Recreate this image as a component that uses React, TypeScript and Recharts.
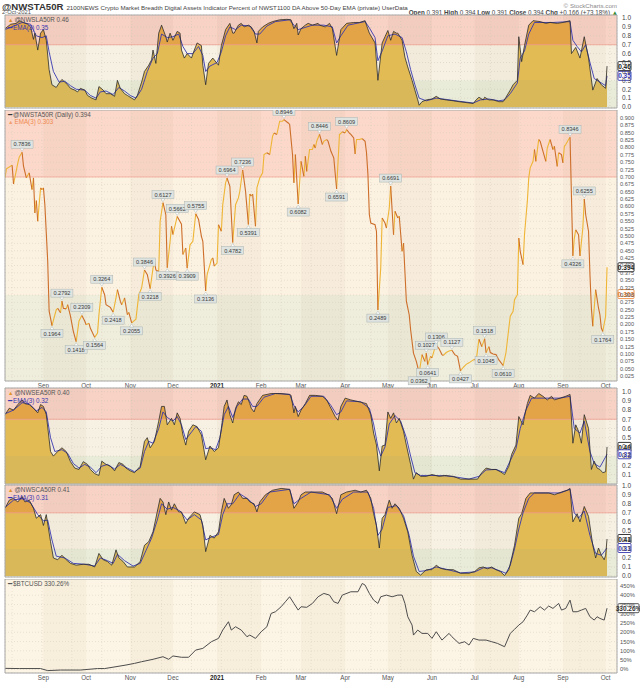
import React from 'react';
import {
  ComposedChart, Area, Line, XAxis, YAxis, CartesianGrid,
  ReferenceArea, ReferenceLine, ReferenceDot,
} from 'recharts';

const FONT = '"Liberation Sans", Arial, Helvetica, sans-serif';

// ---------- time axis (day 0 = 2020-08-05, last bar day 423 = 2021-10-02) ----------
const X_DOMAIN: [number, number] = [0, 430];
const monthStarts = [27, 57, 88, 118, 149, 180, 208, 239, 269, 300, 330, 361, 392, 422];
const monthNames = ['Sep', 'Oct', 'Nov', 'Dec', '2021', 'Feb', 'Mar', 'Apr', 'May', 'Jun', 'Jul', 'Aug', 'Sep', 'Oct'];
const shadedMonths: [number, number][] = [[27, 57], [88, 118], [149, 180], [208, 239], [269, 300], [330, 361], [392, 422]];
const weekLines = Array.from({ length: 61 }, (_, i) => 5 + i * 7);

// ---------- tick labels ----------
const oscTicks = [0, 0.1, 0.2, 0.3, 0.4, 0.5, 0.6, 0.7, 0.8, 0.9, 1.0];
const oscTicksNoZero = [0.1, 0.2, 0.3, 0.4, 0.5, 0.6, 0.7, 0.8, 0.9, 1.0];
const mainTicks = [0.025, 0.05, 0.075, 0.1, 0.125, 0.15, 0.175, 0.2, 0.225, 0.25, 0.275, 0.3, 0.325, 0.35, 0.375, 0.4, 0.425, 0.45, 0.475, 0.5, 0.525, 0.55, 0.575, 0.6, 0.625, 0.65, 0.675, 0.7, 0.725, 0.75, 0.775, 0.8, 0.825, 0.85, 0.875, 0.9];
const btcTicks = [0, 50, 100, 150, 200, 250, 300, 350, 400, 450];

// ---------- @NWSLA50R (top panel) ----------
const nwslaSeries = [[0,0.88],[4,0.93],[8,0.94],[10,0.97],[13,0.95],[16,0.93],[18,0.90],[20,0.76],[21,0.83],[23,0.64],[25,0.83],[27,0.87],[29,0.75],[31,0.42],[33,0.25],[36,0.22],[38,0.27],[40,0.31],[42,0.28],[44,0.25],[46,0.21],[49,0.19],[51,0.17],[53,0.21],[56,0.19],[58,0.13],[61,0.10],[64,0.08],[66,0.23],[69,0.19],[71,0.15],[74,0.15],[77,0.12],[79,0.30],[81,0.21],[84,0.15],[86,0.13],[89,0.10],[91,0.08],[93,0.13],[96,0.28],[98,0.40],[101,0.47],[103,0.53],[104,0.64],[106,0.49],[108,0.83],[110,0.92],[113,0.79],[114,0.73],[116,0.83],[118,0.75],[121,0.85],[123,0.83],[124,0.64],[126,0.55],[128,0.60],[131,0.55],[133,0.64],[135,0.72],[138,0.69],[139,0.47],[141,0.25],[143,0.49],[146,0.55],[150,0.47],[152,0.69],[155,0.87],[158,0.94],[160,0.83],[161,0.83],[164,0.92],[166,0.94],[168,0.90],[171,0.92],[173,0.90],[175,0.85],[177,0.72],[178,0.85],[181,0.90],[185,0.94],[188,0.96],[193,0.98],[198,0.985],[201,0.98],[203,0.88],[205,0.94],[206,0.81],[208,0.88],[211,0.92],[213,0.94],[216,0.92],[220,0.94],[221,0.92],[225,0.90],[228,0.94],[230,0.88],[233,0.58],[236,0.87],[240,0.94],[245,0.95],[249,0.95],[253,0.97],[254,0.92],[256,0.83],[260,0.72],[262,0.30],[265,0.72],[267,0.79],[269,0.86],[271,0.75],[273,0.85],[275,0.83],[276,0.83],[279,0.75],[281,0.56],[283,0.45],[286,0.30],[288,0.19],[290,0.08],[291,0.02],[293,0.06],[296,0.08],[300,0.09],[303,0.12],[306,0.09],[310,0.08],[315,0.07],[319,0.06],[324,0.05],[329,0.04],[331,0.08],[333,0.11],[336,0.08],[337,0.11],[340,0.08],[343,0.08],[347,0.06],[350,0.06],[352,0.11],[355,0.19],[357,0.25],[360,0.30],[361,0.79],[363,0.51],[365,0.69],[368,0.92],[371,0.97],[376,0.96],[380,0.94],[383,0.95],[388,0.94],[392,0.95],[397,0.97],[398,0.60],[401,0.67],[404,0.55],[407,0.79],[410,0.55],[413,0.19],[416,0.32],[419,0.25],[422,0.21],[423,0.46]];
const nwslaEma = [[0,0.87],[6,0.91],[12,0.95],[18,0.93],[22,0.80],[26,0.78],[29,0.80],[31,0.62],[34,0.40],[38,0.28],[42,0.29],[46,0.24],[50,0.20],[56,0.19],[60,0.13],[64,0.10],[67,0.17],[71,0.18],[76,0.14],[80,0.22],[84,0.18],[88,0.13],[92,0.10],[96,0.20],[100,0.40],[104,0.55],[107,0.60],[110,0.82],[114,0.78],[118,0.79],[122,0.82],[125,0.68],[128,0.60],[132,0.60],[136,0.68],[139,0.58],[141,0.40],[144,0.46],[149,0.50],[152,0.62],[155,0.80],[158,0.90],[162,0.87],[166,0.92],[172,0.91],[176,0.82],[179,0.82],[184,0.91],[190,0.96],[200,0.98],[203,0.92],[206,0.87],[210,0.89],[216,0.92],[224,0.92],[230,0.90],[233,0.72],[236,0.80],[241,0.92],[253,0.96],[256,0.89],[260,0.78],[262,0.52],[265,0.63],[269,0.80],[274,0.82],[279,0.78],[282,0.62],[285,0.42],[288,0.25],[291,0.10],[296,0.07],[303,0.10],[310,0.085],[319,0.065],[329,0.045],[334,0.08],[340,0.09],[347,0.07],[351,0.08],[355,0.15],[360,0.27],[362,0.55],[365,0.63],[368,0.82],[372,0.95],[385,0.95],[397,0.96],[399,0.75],[402,0.68],[405,0.62],[408,0.70],[411,0.50],[414,0.32],[418,0.28],[422,0.24],[423,0.35]];

// ---------- @NWSTA50R (main panel) ----------
const nwstaSeries = [[0,0.697],[1,0.728],[5,0.740],[6,0.676],[9,0.747],[10,0.767],[12,0.7836],[13,0.737],[15,0.697],[17,0.714],[19,0.657],[20,0.697],[21,0.578],[22,0.620],[23,0.550],[25,0.663],[26,0.657],[27,0.663],[28,0.606],[30,0.415],[31,0.246],[33,0.1964],[36,0.250],[37,0.255],[39,0.240],[40,0.2792],[41,0.255],[43,0.253],[44,0.267],[46,0.228],[48,0.177],[50,0.1418],[52,0.212],[54,0.2309],[56,0.212],[57,0.199],[59,0.204],[60,0.187],[63,0.1564],[65,0.171],[66,0.233],[68,0.3264],[70,0.301],[71,0.267],[74,0.258],[76,0.2418],[78,0.290],[79,0.318],[81,0.279],[82,0.267],[84,0.290],[86,0.233],[87,0.241],[89,0.2055],[92,0.218],[94,0.301],[96,0.324],[98,0.3846],[100,0.369],[102,0.3218],[104,0.391],[105,0.414],[106,0.385],[108,0.380],[109,0.550],[111,0.6127],[113,0.572],[114,0.3926],[116,0.482],[117,0.533],[118,0.505],[121,0.5662],[124,0.540],[125,0.437],[127,0.459],[128,0.3909],[130,0.470],[132,0.482],[134,0.5755],[136,0.556],[138,0.499],[139,0.482],[141,0.3136],[142,0.369],[145,0.420],[146,0.426],[147,0.398],[149,0.408],[150,0.538],[152,0.516],[153,0.606],[155,0.680],[156,0.6964],[158,0.668],[160,0.4782],[162,0.606],[164,0.629],[165,0.652],[167,0.7236],[169,0.652],[171,0.5391],[172,0.642],[173,0.635],[174,0.642],[176,0.533],[177,0.663],[179,0.697],[181,0.714],[182,0.776],[184,0.782],[186,0.776],[188,0.838],[189,0.849],[191,0.844],[193,0.889],[195,0.889],[196,0.8946],[199,0.883],[200,0.878],[202,0.776],[203,0.680],[204,0.776],[206,0.6082],[208,0.753],[210,0.702],[211,0.770],[212,0.719],[214,0.793],[216,0.793],[217,0.810],[218,0.798],[219,0.821],[221,0.8446],[223,0.810],[224,0.821],[226,0.827],[227,0.821],[229,0.787],[231,0.765],[233,0.6591],[235,0.844],[237,0.853],[239,0.849],[240,0.8609],[242,0.849],[243,0.844],[245,0.832],[246,0.778],[247,0.827],[249,0.827],[251,0.830],[253,0.821],[254,0.782],[255,0.708],[256,0.572],[257,0.544],[260,0.538],[261,0.516],[262,0.2489],[264,0.392],[265,0.561],[267,0.544],[268,0.527],[270,0.595],[271,0.6691],[273,0.504],[274,0.584],[276,0.561],[277,0.567],[279,0.448],[280,0.476],[282,0.279],[284,0.233],[285,0.182],[287,0.103],[289,0.075],[291,0.0362],[293,0.098],[295,0.075],[296,0.1027],[297,0.0641],[299,0.092],[300,0.087],[302,0.120],[303,0.1306],[305,0.118],[307,0.098],[308,0.095],[310,0.105],[312,0.110],[314,0.1127],[316,0.098],[318,0.092],[320,0.0427],[322,0.055],[324,0.065],[326,0.070],[329,0.080],[330,0.082],[331,0.076],[333,0.150],[335,0.125],[337,0.1518],[338,0.1045],[340,0.125],[341,0.105],[343,0.100],[345,0.098],[347,0.080],[350,0.0610],[352,0.105],[354,0.188],[355,0.228],[357,0.245],[358,0.284],[360,0.301],[361,0.493],[362,0.448],[364,0.403],[365,0.504],[366,0.561],[367,0.618],[368,0.697],[369,0.731],[371,0.753],[372,0.793],[373,0.753],[375,0.827],[376,0.821],[378,0.787],[380,0.753],[381,0.798],[383,0.827],[385,0.793],[386,0.804],[388,0.736],[389,0.782],[391,0.776],[392,0.748],[393,0.804],[394,0.810],[396,0.827],[397,0.8346],[399,0.4326],[400,0.493],[401,0.521],[403,0.504],[404,0.432],[406,0.527],[407,0.6255],[408,0.572],[410,0.516],[411,0.369],[412,0.256],[413,0.194],[414,0.256],[415,0.318],[417,0.256],[418,0.233],[419,0.188],[420,0.1764],[422,0.228],[423,0.394]];
// annotated turning points: [day, value, 1 = label above / 0 = label below]
const nwstaMarks = [[12,0.7836,1],[33,0.1964,0],[40,0.2792,1],[50,0.1418,0],[54,0.2309,1],[63,0.1564,0],[68,0.3264,1],[76,0.2418,0],[89,0.2055,0],[98,0.3846,1],[102,0.3218,0],[111,0.6127,1],[114,0.3926,0],[121,0.5662,1],[128,0.3909,0],[134,0.5755,1],[141,0.3136,0],[156,0.6964,1],[160,0.4782,0],[167,0.7236,1],[171,0.5391,0],[196,0.8946,1],[206,0.6082,0],[221,0.8446,1],[233,0.6591,0],[240,0.8609,1],[262,0.2489,0],[271,0.6691,1],[291,0.0362,0],[296,0.1027,1],[297,0.0641,0],[303,0.1306,1],[314,0.1127,1],[320,0.0427,0],[337,0.1518,1],[338,0.1045,0],[350,0.0610,0],[397,0.8346,1],[399,0.4326,0],[407,0.6255,1],[420,0.1764,0]];

// ---------- @NWSEA50R ----------
const nwseaSeries = [[0,0.75],[3,0.82],[6,0.80],[9,0.86],[12,0.91],[14,0.87],[17,0.86],[20,0.82],[23,0.77],[25,0.86],[27,0.84],[29,0.75],[32,0.35],[34,0.30],[37,0.35],[40,0.39],[43,0.35],[46,0.24],[49,0.17],[52,0.155],[55,0.24],[58,0.21],[60,0.155],[63,0.11],[66,0.09],[68,0.245],[71,0.21],[74,0.19],[77,0.14],[80,0.23],[83,0.21],[85,0.17],[88,0.14],[91,0.12],[95,0.19],[98,0.46],[100,0.50],[102,0.39],[105,0.46],[108,0.68],[110,0.84],[112,0.84],[114,0.64],[117,0.71],[119,0.64],[121,0.77],[123,0.71],[125,0.53],[127,0.42],[129,0.57],[132,0.64],[135,0.62],[138,0.53],[141,0.26],[144,0.41],[147,0.35],[150,0.39],[152,0.60],[154,0.84],[156,0.91],[158,0.75],[160,0.66],[162,0.82],[164,0.89],[166,0.86],[168,0.96],[170,0.95],[172,0.87],[173,0.82],[175,0.78],[177,0.87],[181,0.96],[187,0.98],[194,0.98],[200,0.97],[201,0.96],[203,0.77],[204,0.84],[206,0.73],[208,0.80],[211,0.87],[214,0.96],[218,0.96],[223,0.95],[226,0.91],[229,0.82],[232,0.73],[234,0.69],[236,0.84],[239,0.93],[243,0.91],[249,0.89],[254,0.87],[257,0.75],[259,0.55],[261,0.42],[263,0.14],[265,0.41],[267,0.42],[269,0.78],[271,0.71],[273,0.77],[275,0.66],[277,0.71],[280,0.57],[282,0.42],[285,0.21],[287,0.05],[289,0.12],[292,0.08],[296,0.08],[300,0.10],[305,0.08],[309,0.09],[315,0.08],[320,0.05],[326,0.05],[332,0.05],[335,0.12],[338,0.17],[342,0.155],[345,0.155],[348,0.13],[351,0.10],[354,0.19],[356,0.32],[359,0.42],[361,0.73],[364,0.64],[365,0.73],[367,0.87],[369,0.96],[372,0.93],[375,0.98],[378,0.95],[381,0.91],[384,0.95],[386,0.91],[390,0.93],[394,0.95],[397,0.97],[399,0.44],[401,0.64],[403,0.57],[405,0.44],[407,0.75],[410,0.60],[412,0.155],[414,0.245],[416,0.17],[418,0.155],[420,0.12],[422,0.13],[423,0.40]];
const nwseaEma = [[0,0.76],[6,0.80],[12,0.88],[17,0.87],[22,0.79],[26,0.83],[29,0.78],[32,0.50],[35,0.35],[40,0.37],[44,0.33],[48,0.22],[52,0.17],[56,0.21],[60,0.18],[64,0.12],[68,0.19],[72,0.21],[77,0.16],[81,0.21],[86,0.17],[91,0.13],[95,0.17],[98,0.35],[101,0.46],[104,0.44],[108,0.60],[111,0.78],[114,0.72],[118,0.68],[121,0.73],[124,0.64],[127,0.48],[130,0.54],[134,0.62],[138,0.57],[141,0.38],[144,0.39],[148,0.37],[151,0.50],[154,0.75],[157,0.84],[160,0.72],[163,0.84],[167,0.92],[171,0.92],[174,0.84],[177,0.84],[182,0.94],[190,0.98],[200,0.97],[203,0.85],[206,0.78],[210,0.84],[215,0.95],[224,0.95],[229,0.85],[233,0.75],[236,0.78],[240,0.90],[250,0.89],[256,0.82],[259,0.65],[262,0.40],[264,0.30],[267,0.40],[270,0.65],[274,0.74],[278,0.68],[282,0.50],[285,0.30],[288,0.12],[292,0.09],[300,0.09],[310,0.085],[318,0.07],[326,0.05],[333,0.08],[338,0.15],[345,0.155],[351,0.12],[355,0.25],[359,0.38],[362,0.60],[366,0.80],[370,0.93],[380,0.93],[390,0.93],[397,0.95],[400,0.60],[404,0.55],[407,0.68],[411,0.35],[414,0.22],[418,0.18],[423,0.32]];

// ---------- @NWSCA50R ----------
const nwscaSeries = [[0,0.75],[3,0.84],[6,0.86],[9,0.82],[12,0.88],[14,0.82],[17,0.84],[20,0.75],[22,0.64],[25,0.68],[27,0.56],[29,0.68],[32,0.38],[34,0.20],[37,0.18],[40,0.23],[43,0.18],[46,0.14],[50,0.12],[55,0.13],[59,0.13],[63,0.10],[66,0.25],[69,0.18],[72,0.16],[75,0.12],[78,0.29],[80,0.20],[83,0.16],[86,0.10],[91,0.10],[95,0.16],[98,0.34],[101,0.38],[104,0.49],[106,0.64],[109,0.86],[111,0.82],[113,0.68],[115,0.82],[117,0.73],[119,0.80],[122,0.71],[124,0.71],[127,0.58],[129,0.64],[133,0.71],[137,0.68],[139,0.56],[141,0.27],[144,0.45],[147,0.42],[150,0.49],[152,0.71],[154,0.86],[157,0.75],[159,0.79],[161,0.90],[164,0.93],[167,0.86],[170,0.86],[172,0.82],[175,0.80],[177,0.71],[179,0.82],[183,0.90],[188,0.95],[194,0.97],[200,0.96],[201,0.90],[203,0.75],[206,0.82],[208,0.90],[211,0.93],[217,0.93],[223,0.93],[227,0.90],[230,0.86],[233,0.69],[236,0.90],[240,0.93],[246,0.95],[250,0.93],[254,0.95],[257,0.86],[259,0.69],[261,0.56],[263,0.31],[265,0.64],[267,0.68],[270,0.84],[272,0.75],[274,0.80],[277,0.75],[280,0.64],[283,0.49],[286,0.23],[289,0.05],[292,0.01],[296,0.07],[300,0.07],[303,0.12],[306,0.085],[310,0.07],[315,0.07],[320,0.03],[326,0.03],[330,0.05],[333,0.09],[336,0.10],[339,0.08],[342,0.10],[345,0.07],[348,0.05],[351,0.005],[354,0.07],[356,0.20],[358,0.34],[361,0.64],[363,0.69],[366,0.86],[369,0.92],[374,0.92],[378,0.92],[382,0.92],[386,0.90],[391,0.93],[395,0.95],[397,0.97],[399,0.60],[402,0.69],[404,0.60],[407,0.77],[410,0.66],[413,0.34],[415,0.20],[417,0.31],[419,0.23],[421,0.18],[422,0.23],[423,0.41]];
const nwscaEma = [[0,0.76],[6,0.84],[12,0.86],[18,0.81],[23,0.68],[27,0.61],[30,0.62],[33,0.40],[36,0.22],[42,0.20],[48,0.14],[56,0.13],[63,0.11],[67,0.20],[72,0.17],[76,0.14],[79,0.24],[84,0.17],[90,0.11],[95,0.14],[99,0.28],[103,0.42],[107,0.62],[110,0.80],[114,0.74],[118,0.76],[123,0.72],[128,0.62],[133,0.68],[138,0.62],[141,0.40],[145,0.43],[150,0.46],[153,0.68],[156,0.80],[160,0.80],[165,0.91],[171,0.85],[176,0.77],[180,0.80],[186,0.93],[200,0.96],[203,0.80],[208,0.86],[215,0.93],[228,0.90],[233,0.75],[237,0.85],[245,0.93],[255,0.93],[259,0.75],[262,0.45],[265,0.52],[269,0.76],[275,0.78],[280,0.67],[284,0.45],[287,0.22],[291,0.05],[296,0.06],[303,0.10],[310,0.075],[320,0.035],[330,0.045],[336,0.09],[342,0.09],[348,0.055],[352,0.03],[355,0.12],[358,0.30],[361,0.52],[364,0.70],[368,0.86],[372,0.92],[390,0.92],[397,0.96],[400,0.70],[403,0.64],[407,0.72],[411,0.45],[415,0.25],[419,0.23],[423,0.31]];

// ---------- $BTCUSD (% change) ----------
const btcSeries = [[0,5],[10,4],[25,4],[30,-7],[39,-4],[53,-4],[65,4],[70,4],[78,14],[85,23],[91,32],[96,41],[104,54],[111,68],[115,54],[118,72],[124,65],[129,65],[134,104],[139,113],[145,149],[150,167],[153,212],[157,257],[159,212],[162,230],[166,212],[170,176],[172,185],[176,167],[180,203],[184,230],[187,302],[190,311],[194,338],[197,365],[200,392],[203,356],[206,320],[208,338],[212,335],[216,356],[220,392],[224,410],[228,401],[231,365],[234,356],[237,401],[243,419],[248,419],[251,464],[253,455],[256,410],[259,374],[262,356],[264,392],[268,401],[272,392],[276,401],[279,401],[281,356],[283,284],[286,239],[287,185],[290,212],[293,194],[297,194],[300,167],[303,203],[307,158],[312,194],[314,176],[319,140],[323,149],[326,131],[329,167],[333,158],[338,158],[342,149],[346,140],[351,122],[355,194],[358,216],[361,239],[364,257],[367,293],[369,320],[372,311],[376,338],[379,320],[382,342],[385,329],[389,356],[391,320],[394,329],[397,374],[399,311],[402,311],[405,320],[408,329],[411,284],[414,266],[416,284],[418,275],[421,266],[423,330.26]];

// ---------- colours ----------
const OSC = { pink: '#f7d2c5', beige: '#f7f1e3', green: '#e9ecd8', red: '#ef9a8c', line: '#2b2b2b', ema: '#3838b0',
  fillHigh: '#e3a448', fillMid: '#e2bb55', fillLow: '#d9b85a' };
const MAIN = { pink: '#fbd8ca', beige: '#fcf2e2', green: '#efeddb', red: '#f3a595', up: '#efb535', down: '#cd6e2a' };

function mergeRows(a: number[][], b: number[][]) {
  const m = new Map<number, any>();
  a.forEach(([d, v]) => m.set(d, { ...(m.get(d) || { d }), v }));
  b.forEach(([d, e]) => m.set(d, { ...(m.get(d) || { d }), e }));
  return Array.from(m.values()).sort((x, y) => x.d - y.d);
}

const ValueBox = (props: any) => {
  const { cx, cy, text, stroke, color, w } = props;
  if (cx == null || cy == null) return null;
  return (
    <g>
      <rect x={cx + 1} y={cy - 4.5} width={w} height={9} fill="#ffffff" stroke={stroke} strokeWidth={0.9} rx={1} />
      <text x={cx + 1 + w / 2} y={cy + 2.6} textAnchor="middle" fontSize={6.5} fontWeight="bold" fill={color} fontFamily={FONT}>{text}</text>
    </g>
  );
};

const PeakLabel = (props: any) => {
  const { cx, cy, text, above } = props;
  if (cx == null || cy == null) return null;
  const w = 22, h = 8;
  const by = above ? cy - 4 - h : cy + 4;
  const tip = above ? `${cx - 2},${cy - 4} ${cx + 2},${cy - 4} ${cx},${cy - 1}` : `${cx - 2},${cy + 4} ${cx + 2},${cy + 4} ${cx},${cy + 1}`;
  return (
    <g>
      <rect x={cx - w / 2} y={by} width={w} height={h} fill="#dfe4e1" stroke="#aab3b1" strokeWidth={0.5} />
      <polygon points={tip} fill="#ffffff" stroke="#9aa" strokeWidth={0.4} />
      <text x={cx} y={by + 6.1} textAnchor="middle" fontSize={5.6} fill="#3a3a3a" fontFamily={FONT}>{text}</text>
    </g>
  );
};

const MonthTick = (props: any) => {
  const { x, y, payload } = props;
  const i = monthStarts.indexOf(payload.value);
  const label = monthNames[i] ?? '';
  return (
    <text x={x} y={y + 6.5} textAnchor="middle" fontSize={6.3} fontFamily={FONT}
      fontWeight={label === '2021' ? 'bold' : 'normal'} fill={label === '2021' ? '#222' : '#555'}>{label}</text>
  );
};

function monthShading(lo: number, hi: number) {
  return shadedMonths.map(([a, b], i) => (
    <ReferenceArea key={'ms' + i} x1={a} x2={b} y1={lo} y2={hi} fill="#6b4a1a" fillOpacity={0.035} stroke="none" zIndex={-120} />
  ));
}

function bands(lo: number, hi: number, c: { pink: string; beige: string; green: string }) {
  return [
    <ReferenceArea key="b1" x1={X_DOMAIN[0]} x2={X_DOMAIN[1]} y1={0.7} y2={hi} fill={c.pink} fillOpacity={1} stroke="none" zIndex={-150} />,
    <ReferenceArea key="b2" x1={X_DOMAIN[0]} x2={X_DOMAIN[1]} y1={0.3} y2={0.7} fill={c.beige} fillOpacity={1} stroke="none" zIndex={-150} />,
    <ReferenceArea key="b3" x1={X_DOMAIN[0]} x2={X_DOMAIN[1]} y1={lo} y2={0.3} fill={c.green} fillOpacity={1} stroke="none" zIndex={-150} />,
  ];
}

function frame(lo: number, hi: number) {
  return <ReferenceArea x1={X_DOMAIN[0]} x2={X_DOMAIN[1]} y1={lo} y2={hi} fill="none" fillOpacity={0} stroke="#a8a8a8" strokeWidth={1} zIndex={450} />;
}

function OscPanel(p: { id: string; top: number; height: number; domain: [number, number]; ticks: number[]; series: number[][]; ema: number[][]; lastV: number; lastE: number }) {
  const rows = mergeRows(p.series, p.ema);
  const [lo, hi] = p.domain;
  const pad = 5;
  // the area's bounding box runs from the series maximum down to the 0 baseline
  const vmax = Math.max(...p.series.map((s) => s[1]));
  const o7 = Math.max(0, (vmax - 0.7) / vmax);
  const o3 = Math.max(0, (vmax - 0.3) / vmax);
  const gid = 'fill_' + p.id;
  return (
    <div style={{ position: 'absolute', left: 0, top: p.top - pad, width: 640, height: p.height + 2 * pad }}>
      <ComposedChart width={640} height={p.height + 2 * pad} data={rows} margin={{ top: pad, right: 0, bottom: pad, left: 5 }}>
        <defs>
          <linearGradient id={gid} x1="0" y1="0" x2="0" y2="1">
            <stop offset={0} stopColor={OSC.fillHigh} />
            <stop offset={o7} stopColor={OSC.fillHigh} />
            <stop offset={o7} stopColor={OSC.fillMid} />
            <stop offset={o3} stopColor={OSC.fillMid} />
            <stop offset={o3} stopColor={OSC.fillLow} />
            <stop offset={1} stopColor={OSC.fillLow} />
          </linearGradient>
        </defs>
        <XAxis dataKey="d" type="number" domain={X_DOMAIN} hide allowDataOverflow />
        <XAxis xAxisId="g" dataKey="d" type="number" domain={X_DOMAIN} ticks={weekLines} hide allowDataOverflow />
        <YAxis orientation="right" width={23} domain={p.domain} ticks={p.ticks} allowDataOverflow interval={0}
          tickFormatter={(v: number) => v.toFixed(1)} tick={{ fontSize: 6.5, fill: '#444', fontFamily: FONT }}
          axisLine={false} tickLine={false} tickSize={0} tickMargin={5} />
        {bands(lo, hi, OSC)}
        {monthShading(lo, hi)}
        <CartesianGrid xAxisId="g" stroke="#cfc6b6" strokeDasharray="1 2" strokeWidth={0.5} />
        <ReferenceLine y={0.7} stroke={OSC.red} strokeWidth={0.8} />
        <Area dataKey="v" type="linear" baseValue={0} stroke="none" fill={`url(#${gid})`} fillOpacity={1}
          connectNulls dot={false} activeDot={false} isAnimationActive={false} />
        <Line dataKey="e" type="linear" stroke={OSC.ema} strokeWidth={0.9} connectNulls dot={false} activeDot={false} isAnimationActive={false} />
        <Line dataKey="v" type="linear" stroke={OSC.line} strokeWidth={0.8} connectNulls dot={false} activeDot={false} isAnimationActive={false} />
        {frame(lo, hi)}
        <ReferenceDot x={430} y={p.lastV} ifOverflow="visible" zIndex={1600}
          shape={(s: any) => <ValueBox {...s} text={p.lastV.toFixed(2)} stroke="#222" color="#222" w={13} />} />
        <ReferenceDot x={430} y={p.lastE} ifOverflow="visible" zIndex={1600}
          shape={(s: any) => <ValueBox {...s} text={p.lastE.toFixed(2)} stroke={OSC.ema} color={OSC.ema} w={13} />} />
      </ComposedChart>
    </div>
  );
}

function MainPanel() {
  const rows: any[] = [];
  for (let i = 0; i < nwstaSeries.length - 1; i++) {
    const [d0, v0] = nwstaSeries[i];
    const [d1, v1] = nwstaSeries[i + 1];
    const k = v1 >= v0 ? 'up' : 'dn';
    rows.push({ d: d0, [k]: v0 }, { d: d1, [k]: v1 });
  }
  const lo = 0.0085, hi = 0.927;
  return (
    <div style={{ position: 'absolute', left: 0, top: 110, width: 640, height: 280 }}>
      <ComposedChart width={640} height={280} data={rows} margin={{ top: 0, right: 0, bottom: 0, left: 5 }}>
        <XAxis dataKey="d" type="number" domain={X_DOMAIN} ticks={monthStarts} interval={0} allowDataOverflow
          height={9} axisLine={false} tickLine={false} tickSize={0} tickMargin={0} tick={<MonthTick />} />
        <XAxis xAxisId="g" dataKey="d" type="number" domain={X_DOMAIN} ticks={weekLines} hide allowDataOverflow />
        <YAxis orientation="right" width={23} domain={[lo, hi]} ticks={mainTicks} allowDataOverflow interval={0}
          tickFormatter={(v: number) => v.toFixed(3)} tick={{ fontSize: 5.6, fill: '#555', fontFamily: FONT }}
          axisLine={false} tickLine={false} tickSize={0} tickMargin={3} />
        {bands(lo, hi, MAIN)}
        {monthShading(lo, hi)}
        <CartesianGrid xAxisId="g" stroke="#d6ccbc" strokeDasharray="1 2" strokeWidth={0.5} />
        <ReferenceLine y={0.7} stroke={MAIN.red} strokeWidth={0.8} />
        <Line dataKey="up" type="linear" stroke={MAIN.up} strokeWidth={1.1} dot={false} activeDot={false} isAnimationActive={false} />
        <Line dataKey="dn" type="linear" stroke={MAIN.down} strokeWidth={1.1} dot={false} activeDot={false} isAnimationActive={false} />
        {frame(lo, hi)}
        {nwstaMarks.map(([d, v, a], i) => (
          <ReferenceDot key={'mk' + i} x={d} y={v} ifOverflow="visible" zIndex={1500}
            shape={(s: any) => <PeakLabel {...s} text={v.toFixed(4)} above={a === 1} />} />
        ))}
        <ReferenceDot x={430} y={0.394} ifOverflow="visible" zIndex={1600}
          shape={(s: any) => <ValueBox {...s} text="0.394" stroke="#222" color="#222" w={16} />} />
        <ReferenceDot x={430} y={0.303} ifOverflow="visible" zIndex={1600}
          shape={(s: any) => <ValueBox {...s} text="0.303" stroke="#f08a3c" color="#e07a30" w={16} />} />
      </ComposedChart>
    </div>
  );
}

function BtcPanel() {
  const rows = btcSeries.map(([d, p]) => ({ d, p }));
  const lo = -20, hi = 488;
  return (
    <div style={{ position: 'absolute', left: 0, top: 579, width: 640, height: 103 }}>
      <ComposedChart width={640} height={103} data={rows} margin={{ top: 0, right: 0, bottom: 0, left: 5 }}>
        <XAxis dataKey="d" type="number" domain={X_DOMAIN} ticks={monthStarts} interval={0} allowDataOverflow
          height={9} axisLine={false} tickLine={false} tickSize={0} tickMargin={0} tick={<MonthTick />} />
        <XAxis xAxisId="g" dataKey="d" type="number" domain={X_DOMAIN} ticks={weekLines} hide allowDataOverflow />
        <YAxis orientation="right" width={23} domain={[lo, hi]} ticks={btcTicks} allowDataOverflow interval={0}
          tickFormatter={(v: number) => `${v}%`} tick={{ fontSize: 5.8, fill: '#555', fontFamily: FONT }}
          axisLine={false} tickLine={false} tickSize={0} tickMargin={3} />
        <ReferenceArea x1={X_DOMAIN[0]} x2={X_DOMAIN[1]} y1={lo} y2={hi} fill="#fcf4e4" fillOpacity={1} stroke="none" zIndex={-150} />
        {monthShading(lo, hi)}
        <CartesianGrid xAxisId="g" stroke="#d8cebe" strokeDasharray="1 2" strokeWidth={0.5} />
        <Line dataKey="p" type="linear" stroke="#4d4d4d" strokeWidth={1} dot={false} activeDot={false} isAnimationActive={false} />
        {frame(lo, hi)}
        <ReferenceDot x={430} y={330.26} ifOverflow="visible" zIndex={1600}
          shape={(s: any) => <ValueBox {...s} text="330.26%" stroke="#444" color="#333" w={21} />} />
      </ComposedChart>
    </div>
  );
}

const legendText: React.CSSProperties = { fontFamily: FONT, fontSize: 6.3, lineHeight: '7px', color: '#444', whiteSpace: 'nowrap' };

function Legend({ top, rows }: { top: number; rows: { icon: 'area' | 'line'; color: string; text: string; textColor: string }[] }) {
  return (
    <div style={{ position: 'absolute', left: 8, top, ...legendText }}>
      {rows.map((r, i) => (
        <div key={i} style={{ color: r.textColor }}>
          <span style={{ color: r.color, fontSize: r.icon === 'area' ? 5.5 : 7, marginRight: 1 }}>{r.icon === 'area' ? '▲' : '━'}</span>
          {r.text}
        </div>
      ))}
    </div>
  );
}

export default function App() {
  return (
    <div style={{ position: 'absolute', left: 0, top: 0, width: 640, height: 682, background: '#ffffff', overflow: 'hidden' }}>
      {/* header */}
      <div style={{ position: 'absolute', left: 2, top: 0, fontFamily: FONT, whiteSpace: 'nowrap', lineHeight: '10px' }}>
        <span style={{ fontSize: 9.6, fontWeight: 'bold', color: '#333' }}>@NWSTA50R</span>
        <span style={{ fontSize: 6.2, color: '#444', marginLeft: 3 }}>2100NEWS Crypto Market Breadth Digital Assets Indicator Percent of NWST1100 DA Above 50-Day EMA (private) UserData</span>
      </div>
      <div style={{ position: 'absolute', left: 2, top: 9, fontFamily: FONT, fontSize: 5.8, color: '#555' }}>2-Oct-2021</div>
      <div style={{ position: 'absolute', right: 23, top: 2, fontFamily: FONT, fontSize: 6.2, color: '#8a8a8a', lineHeight: '7px' }}>© StockCharts.com</div>
      <div style={{ position: 'absolute', right: 22, top: 9, fontFamily: FONT, fontSize: 6.3, color: '#444', whiteSpace: 'nowrap', lineHeight: '7px' }}>
        <b>Open</b> 0.391 <b>High</b> 0.394 <b>Low</b> 0.391 <b>Close</b> 0.394 <b>Chg</b> +0.166 (+73.18%) <span style={{ color: '#2a8a2a' }}>▲</span>
      </div>

      <MainPanel />
      <BtcPanel />
      <OscPanel id="la" top={15} height={93} domain={[-0.011, 1.034]} ticks={oscTicks} series={nwslaSeries} ema={nwslaEma} lastV={0.46} lastE={0.35} />
      <OscPanel id="ea" top={388} height={96} domain={[-0.003, 1.04]} ticks={oscTicksNoZero} series={nwseaSeries} ema={nwseaEma} lastV={0.40} lastE={0.32} />
      <OscPanel id="ca" top={485} height={92} domain={[-0.011, 1.008]} ticks={oscTicks} series={nwscaSeries} ema={nwscaEma} lastV={0.41} lastE={0.31} />

      <Legend top={16} rows={[
        { icon: 'area', color: '#e0962a', text: '@NWSLA50R 0.46', textColor: '#555' },
        { icon: 'line', color: OSC.ema, text: 'EMA(3) 0.35', textColor: OSC.ema },
      ]} />
      <Legend top={111} rows={[
        { icon: 'line', color: '#333', text: '@NWSTA50R (Daily) 0.394', textColor: '#555' },
        { icon: 'area', color: '#f3a070', text: 'EMA(3) 0.303', textColor: '#f08a50' },
      ]} />
      <Legend top={389} rows={[
        { icon: 'area', color: '#e0962a', text: '@NWSEA50R 0.40', textColor: '#555' },
        { icon: 'line', color: OSC.ema, text: 'EMA(3) 0.32', textColor: OSC.ema },
      ]} />
      <Legend top={486} rows={[
        { icon: 'area', color: '#e0962a', text: '@NWSCA50R 0.41', textColor: '#555' },
        { icon: 'line', color: OSC.ema, text: 'EMA(3) 0.31', textColor: OSC.ema },
      ]} />
      <Legend top={580} rows={[
        { icon: 'line', color: '#555', text: '$BTCUSD 330.26%', textColor: '#555' },
      ]} />
    </div>
  );
}
